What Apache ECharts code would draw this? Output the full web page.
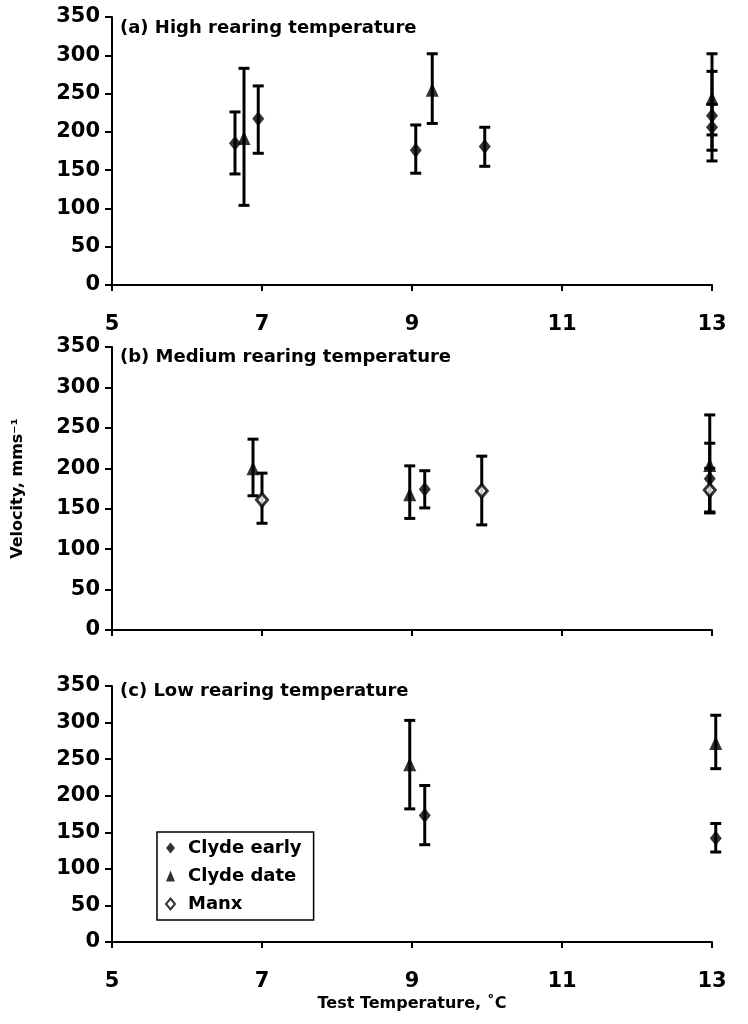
<!DOCTYPE html>
<html><head><meta charset="utf-8">
<script src="https://cdn.jsdelivr.net/npm/echarts@6/dist/echarts.min.js"></script>
<style>html,body{margin:0;padding:0;background:#fff}#c{width:748px;height:1024px}</style>
</head><body><div id="c"></div>
<script>
const seriesNames = ['Clyde early', 'Clyde date', 'Manx'];
const panelTitles = ['(a) High rearing temperature', '(b) Medium rearing temperature', '(c) Low rearing temperature'];
const xAxisName = 'Test Temperature, \u02DAC';
const yAxisName = 'Velocity, mms\u207B\u00B9';
// panel (a)
const aEarlyX = [6.64, 6.95, 9.05, 9.97, 13, 13];
const aEarlyY = [185, 217, 176, 181, 221, 206];
const aEarlyLo = [145, 172, 146, 155, 162, 176];
const aEarlyHi = [226, 260, 209, 206, 279, 236];
const aDateX = [6.76, 9.27, 13];
const aDateY = [192, 255, 244];
const aDateLo = [104, 211, 196];
const aDateHi = [283, 302, 302];
// panel (b)
const bEarlyX = [9.17, 12.97];
const bEarlyY = [174, 187];
const bEarlyLo = [151, 145];
const bEarlyHi = [197, 231];
const bDateX = [6.88, 8.97, 12.97];
const bDateY = [200, 168, 204];
const bDateLo = [166, 138, 146];
const bDateHi = [236, 203, 266];
const bManxX = [7.0, 9.93, 12.97];
const bManxY = [161, 172, 173];
const bManxLo = [132, 130, 145];
const bManxHi = [194, 215, 200];
// panel (c)
const cEarlyX = [9.17, 13.05];
const cEarlyY = [173, 142];
const cEarlyLo = [133, 123];
const cEarlyHi = [214, 162];
const cDateX = [8.97, 13.05];
const cDateY = [243, 272];
const cDateLo = [182, 237];
const cDateHi = [303, 310];

const FONT = 'DejaVu Sans';
const grids = [
  {left: 112, top: 17, width: 600, height: 268},
  {left: 112, top: 347, width: 600, height: 283},
  {left: 112, top: 686, width: 600, height: 256}
];
const titleTops = [19, 348, 682];

function zip(x, y) { return x.map((v, i) => [v, y[i]]); }
function zip3(x, lo, hi) { return x.map((v, i) => [v, lo[i], hi[i]]); }

function errItem(params, api) {
  const x = api.value(0), lo = api.value(1), hi = api.value(2);
  const p1 = api.coord([x, hi]), p2 = api.coord([x, lo]);
  const w = 5.5;
  const st = {stroke: '#000', lineWidth: 3};
  return {type: 'group', children: [
    {type: 'line', shape: {x1: p1[0], y1: p1[1], x2: p2[0], y2: p2[1]}, style: st},
    {type: 'line', shape: {x1: p1[0] - w, y1: p1[1], x2: p1[0] + w, y2: p1[1]}, style: st},
    {type: 'line', shape: {x1: p2[0] - w, y1: p2[1], x2: p2[0] + w, y2: p2[1]}, style: st}
  ]};
}

const styles = {
  'Clyde early': {symbol: 'diamond', symbolSize: [12, 15], itemStyle: {color: '#000'}},
  'Clyde date': {symbol: 'triangle', symbolSize: [13, 14], itemStyle: {color: '#000'}},
  'Manx': {symbol: 'diamond', symbolSize: [11, 13], itemStyle: {color: '#fff', borderColor: '#000', borderWidth: 3}}
};

const series = [];
function addGroup(idx, name, x, y, lo, hi) {
  series.push({type: 'custom', xAxisIndex: idx, yAxisIndex: idx, renderItem: errItem, clip: false,
    data: zip3(x, lo, hi), encode: {x: 0, y: [1, 2]}, z: 2, silent: true});
  series.push(Object.assign({type: 'scatter', name: name, xAxisIndex: idx, yAxisIndex: idx, clip: false,
    data: zip(x, y), z: 5}, styles[name]));
}
addGroup(0, seriesNames[0], aEarlyX, aEarlyY, aEarlyLo, aEarlyHi);
addGroup(0, seriesNames[1], aDateX, aDateY, aDateLo, aDateHi);
addGroup(1, seriesNames[0], bEarlyX, bEarlyY, bEarlyLo, bEarlyHi);
addGroup(1, seriesNames[1], bDateX, bDateY, bDateLo, bDateHi);
addGroup(1, seriesNames[2], bManxX, bManxY, bManxLo, bManxHi);
addGroup(2, seriesNames[0], cEarlyX, cEarlyY, cEarlyLo, cEarlyHi);
addGroup(2, seriesNames[1], cDateX, cDateY, cDateLo, cDateHi);

const axisLine = {show: true, onZero: false, lineStyle: {color: '#000', width: 2}};
const xAxes = grids.map((g, i) => ({
  type: 'value', gridIndex: i, min: 5, max: 13, interval: 2,
  axisLine: axisLine, splitLine: {show: false},
  axisTick: {show: true, length: 6, lineStyle: {color: '#000', width: 2}},
  axisLabel: {show: i !== 1, margin: 29, fontFamily: FONT, fontWeight: 'bold', fontSize: 21, color: '#000'},
  name: i === 2 ? xAxisName : '', nameLocation: 'middle', nameGap: 54,
  nameTextStyle: {fontFamily: FONT, fontWeight: 'bold', fontSize: 16, color: '#000'}
}));
const yAxes = grids.map((g, i) => ({
  type: 'value', gridIndex: i, min: 0, max: 350, interval: 50,
  axisLine: axisLine, splitLine: {show: false},
  axisTick: {show: true, length: 7, lineStyle: {color: '#000', width: 2}},
  axisLabel: {margin: 12, fontFamily: FONT, fontWeight: 'bold', fontSize: 21, color: '#000'},
  name: i === 1 ? yAxisName : '', nameLocation: 'middle', nameGap: 86, nameRotate: 90,
  nameTextStyle: {fontFamily: FONT, fontWeight: 'bold', fontSize: 16, color: '#000'}
}));

const chart = echarts.init(document.getElementById('c'), null, {renderer: 'canvas'});
chart.setOption({
  animation: false,
  backgroundColor: '#fff',
  title: panelTitles.map((t, i) => ({text: t, left: 120, top: titleTops[i], padding: 0,
    textStyle: {fontFamily: FONT, fontWeight: 'bold', fontSize: 18, color: '#000'}})),
  legend: {
    data: seriesNames, orient: 'vertical', left: 157, top: 832,
    backgroundColor: '#fff', borderColor: '#000', borderWidth: 1.5, borderRadius: 0,
    padding: [7, 12, 7, 8], itemGap: 10, itemWidth: 9, itemHeight: 11,
    textStyle: {fontFamily: FONT, fontWeight: 'bold', fontSize: 18, color: '#000', padding: [0, 0, 0, 8]}
  },
  grid: grids,
  xAxis: xAxes,
  yAxis: yAxes,
  series: series
});
</script></body></html>
